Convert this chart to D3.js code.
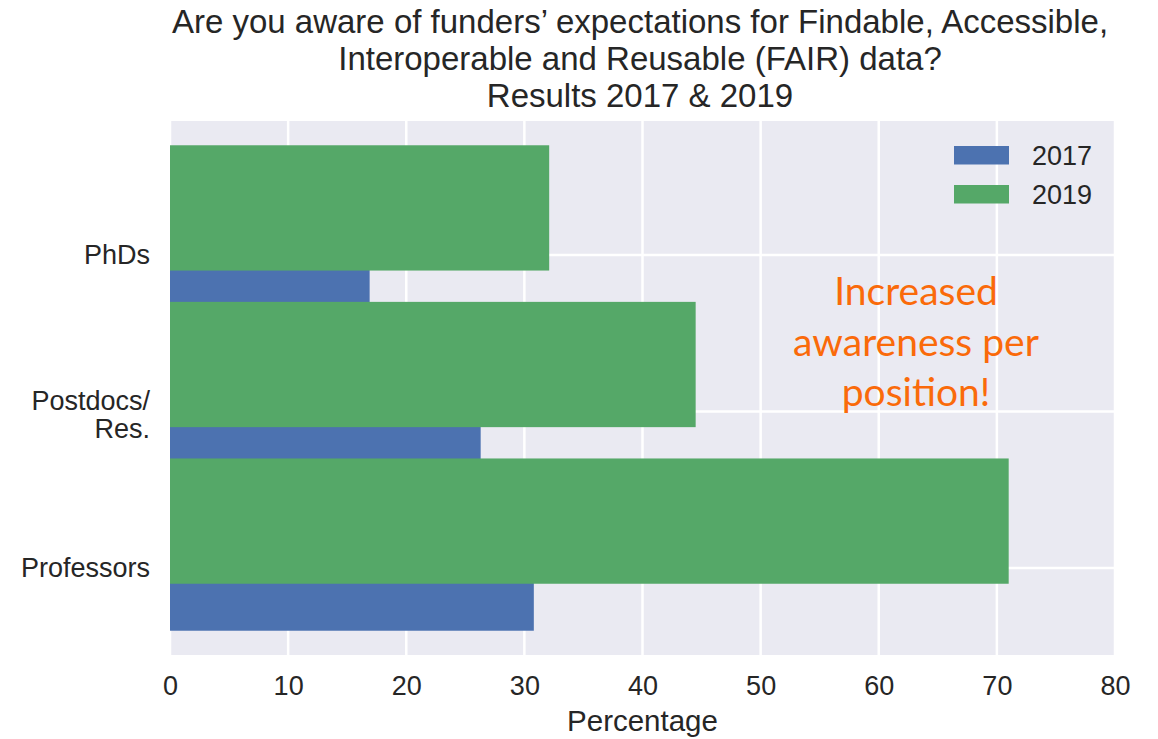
<!DOCTYPE html>
<html>
<head>
<meta charset="utf-8">
<script src="https://cdn.jsdelivr.net/npm/d3@7"></script>
<style>
  html, body { margin: 0; padding: 0; background: #ffffff; }
  svg { display: block; }
  text { font-family: "Liberation Sans", Arial, sans-serif; fill: #262626; }
</style>
</head>
<body>
<svg id="chart" width="1158" height="739"></svg>
<script>
// ---- Data ----
const categories = ["Professors", "Postdocs/\nRes.", "PhDs"]; // bottom to top
const series = ["2017", "2019"];
const values2017 = [30.8, 26.3, 16.9];
const values2019 = [71.0, 44.5, 32.1];
const xTicks = [0, 10, 20, 30, 40, 50, 60, 70, 80];
const titleLines = [
  "Are you aware of funders’ expectations for Findable, Accessible,",
  "Interoperable and Reusable (FAIR) data?",
  "Results 2017 & 2019"
];
const annotationLines = ["Increased", "awareness per", "position!"];
const xLabel = "Percentage";

// ---- Layout ----
const W = 1158, H = 739;
const plot = { left: 170, right: 1115, top: 121, bottom: 655 };
const colors = { "2017": "#4C72B0", "2019": "#55A868" };
const barH = 0.8, offset2019 = 0.3;

const svg = d3.select("#chart");

const x = d3.scaleLinear().domain([0, 80]).range([plot.left, plot.right]);
// category index scale (matplotlib style with 5% margins)
const yMin = -barH / 2, yMax = categories.length - 1 + offset2019 + barH / 2;
const pad = (yMax - yMin) * 0.05;
const y = d3.scaleLinear().domain([yMin - pad, yMax + pad]).range([plot.bottom, plot.top]);

// background
svg.append("rect")
  .attr("x", plot.left).attr("y", plot.top)
  .attr("width", plot.right - plot.left).attr("height", plot.bottom - plot.top)
  .attr("fill", "#EAEAF2");

// grid lines
const grid = svg.append("g");
grid.selectAll("line.v").data(xTicks).enter().append("line")
  .attr("x1", d => x(d)).attr("x2", d => x(d))
  .attr("y1", plot.top).attr("y2", plot.bottom)
  .attr("stroke", "#ffffff").attr("stroke-width", 2.5);
grid.selectAll("line.h").data(categories.map((c, i) => i)).enter().append("line")
  .attr("x1", plot.left).attr("x2", plot.right)
  .attr("y1", d => y(d)).attr("y2", d => y(d))
  .attr("stroke", "#ffffff").attr("stroke-width", 2.5);

// bars: 2017 first, then 2019 on top
const bars = svg.append("g");
bars.selectAll("rect.b2017").data(values2017).enter().append("rect")
  .attr("x", x(0))
  .attr("y", (d, i) => y(i + barH / 2))
  .attr("width", d => x(d) - x(0))
  .attr("height", (d, i) => y(i - barH / 2) - y(i + barH / 2))
  .attr("fill", colors["2017"]);
bars.selectAll("rect.b2019").data(values2019).enter().append("rect")
  .attr("x", x(0))
  .attr("y", (d, i) => y(i + offset2019 + barH / 2))
  .attr("width", d => x(d) - x(0))
  .attr("height", (d, i) => y(i + offset2019 - barH / 2) - y(i + offset2019 + barH / 2))
  .attr("fill", colors["2019"]);

// x axis
const xAxis = d3.axisBottom(x).tickValues(xTicks).tickSize(0).tickPadding(0).tickFormat(d3.format("d"));
const gx = svg.append("g").attr("transform", `translate(0,${plot.bottom})`).call(xAxis);
gx.select(".domain").remove();
gx.selectAll("text").attr("font-size", 27).attr("fill", "#262626")
  .attr("dy", null).attr("y", 40);

svg.append("text")
  .attr("x", (plot.left + plot.right) / 2).attr("y", 731)
  .attr("text-anchor", "middle").attr("font-size", 29.5)
  .text(xLabel);

// y axis labels
const yl = svg.append("g");
categories.forEach((c, i) => {
  const lines = c.split("\n");
  const t = yl.append("text")
    .attr("text-anchor", "end").attr("font-size", 27)
    .attr("x", 150);
  if (lines.length === 1) {
    t.attr("y", y(i) + 9).text(c);
  } else {
    lines.forEach((ln, k) => {
      t.append("tspan").attr("x", 150).attr("y", y(i) - 1 + k * 28).text(ln);
    });
  }
});

// title
svg.append("g").selectAll("text").data(titleLines).enter().append("text")
  .attr("x", 640).attr("y", (d, i) => 33 + i * 36.75)
  .attr("text-anchor", "middle").attr("font-size", 33)
  .text(d => d);

// legend
const lg = svg.append("g");
series.forEach((s, i) => {
  lg.append("rect").attr("x", 954).attr("y", 146 + i * 39)
    .attr("width", 55).attr("height", 18.5).attr("fill", colors[s]);
  lg.append("text").attr("x", 1032).attr("y", 146 + i * 39 + 19)
    .attr("font-size", 27).text(s);
});

// annotation
svg.append("g").selectAll("text").data(annotationLines).enter().append("text")
  .attr("x", 916).attr("y", (d, i) => 305 + i * 50.5)
  .attr("text-anchor", "middle")
  .style("font-family", "Lato, 'Open Sans', sans-serif")
  .style("fill", "#FA6A0A")
  .attr("font-size", 39)
  .text(d => d);
</script>
</body>
</html>
